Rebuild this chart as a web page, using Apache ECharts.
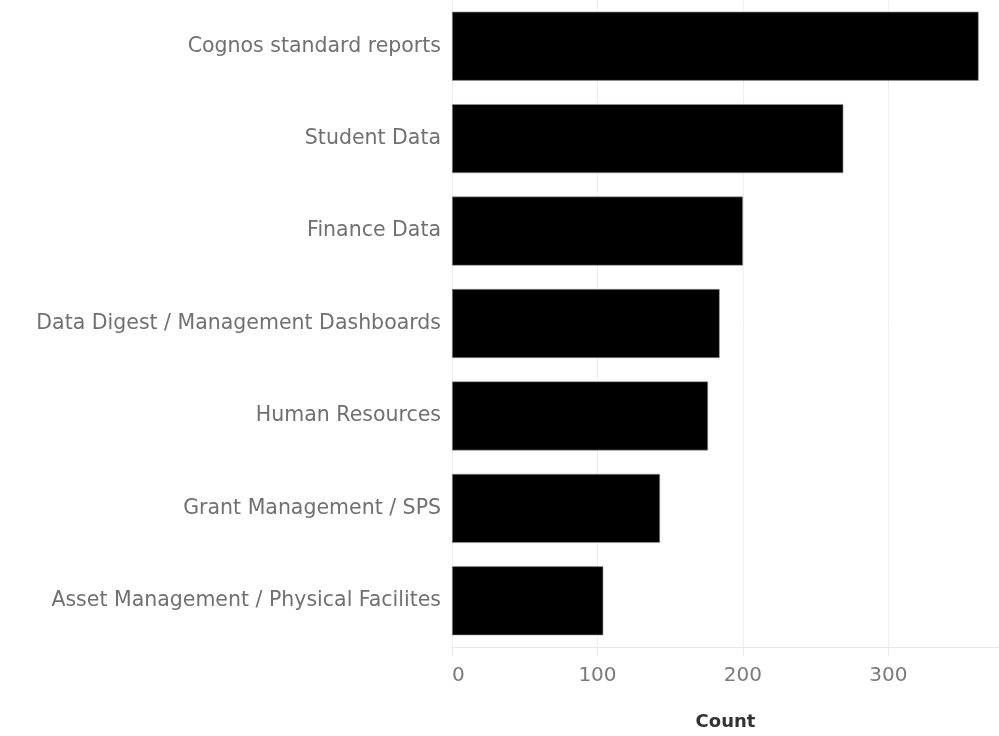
<!DOCTYPE html>
<html>
<head>
<meta charset="utf-8">
<script src="https://cdn.jsdelivr.net/npm/echarts@6/dist/echarts.min.js"></script>
<style>
html,body{margin:0;padding:0;background:#fff;}
#chart{width:999px;height:736px;}
</style>
</head>
<body>
<div id="chart"></div>
<script>
const categories = [
  "Cognos standard reports",
  "Student Data",
  "Finance Data",
  "Data Digest / Management Dashboards",
  "Human Resources",
  "Grant Management / SPS",
  "Asset Management / Physical Facilites"
];
const counts = [362, 269, 200, 184, 176, 143, 104];
const xTicks = [0, 100, 200, 300];
const axisTitle = "Count";

const chart = echarts.init(document.getElementById('chart'), null, {renderer: 'canvas'});
chart.setOption({
  animation: false,
  backgroundColor: '#ffffff',
  grid: {left: 452, right: 0, top: 0, bottom: 88, containLabel: false},
  xAxis: {
    type: 'value',
    min: xTicks[0],
    max: 376,
    interval: xTicks[1] - xTicks[0],
    name: axisTitle,
    nameLocation: 'middle',
    nameGap: 66,
    nameTextStyle: {fontFamily: 'DejaVu Sans', fontWeight: 'bold', fontSize: 18, color: '#333333'},
    axisLine: {show: true, lineStyle: {color: '#e8e8e8', width: 1}},
    axisTick: {show: true, length: 9, lineStyle: {color: '#ececec', width: 1}},
    splitLine: {show: true, lineStyle: {color: '#efefef', width: 1}},
    axisLabel: {
      show: true, margin: 19, fontFamily: 'DejaVu Sans', fontSize: 20, color: '#7a7a7a',
      showMaxLabel: false, alignMinLabel: 'left',
      formatter: v => xTicks.includes(v) ? String(v) : ''
    }
  },
  yAxis: {
    type: 'category',
    data: categories,
    inverse: true,
    axisLine: {show: false},
    axisTick: {show: false},
    splitLine: {show: false},
    axisLabel: {margin: 11, fontFamily: 'DejaVu Sans', fontSize: 20.5, color: '#707070'}
  },
  series: [{
    type: 'bar',
    data: counts,
    barWidth: 69,
    itemStyle: {color: '#000000', borderColor: '#9a9a9a', borderWidth: 0.6},
    emphasis: {disabled: true}
  }]
});
</script>
</body>
</html>
